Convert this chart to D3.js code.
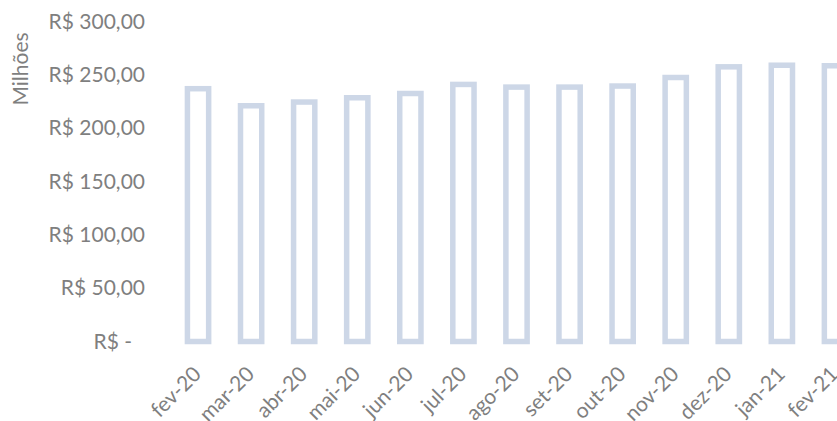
<!DOCTYPE html>
<html lang="pt">
<head>
<meta charset="UTF-8" />
<script src="https://d3js.org/d3.v7.min.js"></script>
<title>Milhões</title>
<style>
  body { margin: 0; background: #fff; }
  text { font-family: Lato, "Open Sans", sans-serif; fill: #7f7f7f; }
</style>
</head>
<body>
<script type="text/javascript">
var width = 837;
var height = 421;

// dados (R$ milhões)
var meses = ["fev-20", "mar-20", "abr-20", "mai-20", "jun-20", "jul-20", "ago-20",
             "set-20", "out-20", "nov-20", "dez-20", "jan-21", "fev-21"];
var valores = [237, 221, 224.5, 228.5, 232.5, 241, 238.5, 238.5, 239.5, 247.5, 257.5, 259, 258.5];
var ticksY = [0, 50, 100, 150, 200, 250, 300];

var svg = d3.select("body").append("svg").attr("width", width).attr("height", height);

var x = d3.scaleBand().domain(meses).range([171.5, 861.5]).paddingInner(0.6).paddingOuter(0.3);
var y = d3.scaleLinear().domain([0, 300]).range([341.5, 21.5]);

function fmt(v) {
  if (v === 0) return "R$ -";
  return "R$ " + d3.format(".2f")(v).replace(".", ",");
}

// eixo Y (só os rótulos)
var gy = svg.append("g").attr("transform", "translate(145,0)")
  .call(d3.axisLeft(y).tickValues(ticksY).tickFormat(fmt).tickSize(0).tickPadding(0));
gy.select(".domain").remove();
gy.selectAll("text")
  .attr("font-size", 21)
  .attr("fill", "#7f7f7f")
  .attr("font-family", "Lato, sans-serif")
  .attr("dx", function(d){ return d === 0 ? -13 : 0; });

svg.append("text")
  .attr("transform", "translate(28,69) rotate(-90)")
  .attr("text-anchor", "middle")
  .attr("font-size", 21)
  .text("Milhões");

// barras (só contorno)
svg.selectAll("rect.bar").data(valores).enter().append("rect")
  .attr("class", "bar")
  .attr("x", function(d, i){ return x(meses[i]); })
  .attr("width", x.bandwidth())
  .attr("y", function(d){ return y(d); })
  .attr("height", function(d){ return y(0) - y(d); })
  .attr("fill", "#fff")
  .attr("stroke", "#cdd7e7")
  .attr("stroke-width", 5.5);

// rótulos X inclinados
svg.selectAll("text.mes").data(meses).enter().append("text")
  .attr("class", "mes")
  .attr("text-anchor", "end")
  .attr("font-size", 21)
  .attr("transform", function(d){
    return "translate(" + (x(d) + x.bandwidth() / 2 - 6) + ",365) rotate(-45)";
  })
  .attr("dy", "0.7em")
  .text(function(d){ return d; });
</script>
</body>
</html>
